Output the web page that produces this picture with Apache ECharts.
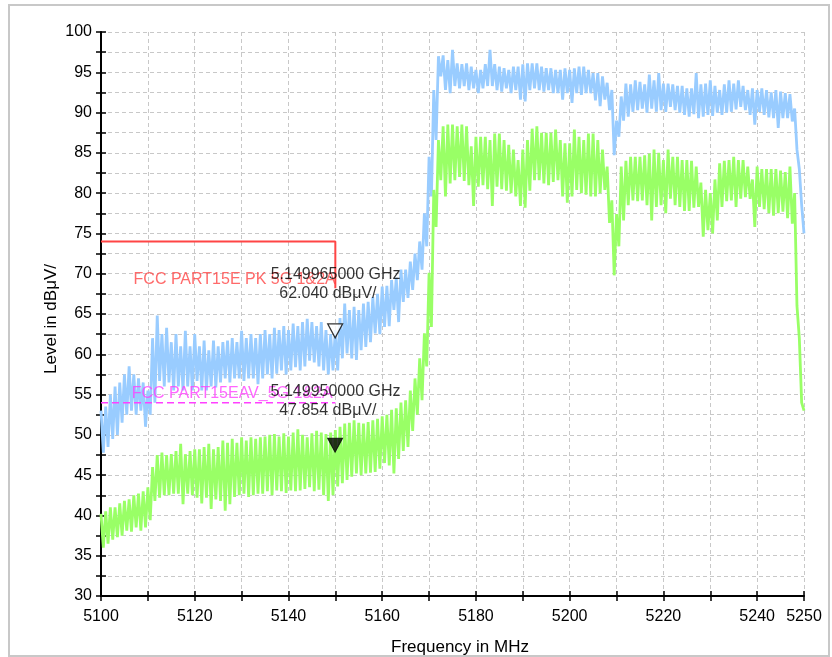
<!DOCTYPE html>
<html><head><meta charset="utf-8">
<script src="https://cdn.jsdelivr.net/npm/echarts@6/dist/echarts.min.js"></script>
<style>html,body{margin:0;padding:0;background:#fff}#c{width:832px;height:657px}</style>
</head><body><div id="c"></div>
<script>
// Frequency axis (MHz): trace maxima read at integer MHz, minima at half-integer MHz
const freqStart = 5100;
const freqStep = 1;
const xTickLabels = [5100, 5120, 5140, 5160, 5180, 5200, 5220, 5240, 5250];

// PK trace (blue) upper envelope, 5100..5250
const pkHi = [
 53,53.5,55,56,56.5,57.5,58.5,57.5,57,56.5,
 55.5,62,64.8,62.5,63.3,61.5,62.5,61,62.9,61,
 62.5,61,61.7,60.5,61.7,61,61.5,61.7,62,61.5,
 62.9,62,62.5,62,62.5,63,62.5,63.3,63,63.5,
 63,63.8,63.5,64,64.4,64,63.5,64,63,62.5,
 63,64.5,66.3,65.5,65.9,65.5,66.3,66.5,67.1,67.5,
 68.4,68.5,69.2,69.5,70.5,70.5,71.5,72.5,74,77.5,
 84.5,92.8,97,97.1,96.5,97.8,96.1,96,96.1,95.7,
 95.3,95.3,96,97.8,96,95.7,95.5,95.3,95.7,95.7,
 96,96.1,96.1,96.1,95.7,95.5,95.5,95.3,95.3,95.5,
 95.3,95.5,95.7,95.7,95.3,94.9,94.9,94.5,93.7,92.8,
 89,92,93.6,93.5,94,93.8,93.5,94.7,94,94.9,
 93.6,93.6,93.5,93.3,93.3,93,93,94.9,93.5,93.6,
 94,93.3,92.8,93.5,94,93.6,94,93.3,92.8,93,
 92.8,93,92.8,92.5,92.8,92.6,92.4,92.3,90.5,83,
 75
];
// PK trace (blue) lower envelope, 5100.5..5249.5
const pkLo = [
 47.8,48.5,49.5,50,51.5,52.5,53,52.5,53,51,
 52.5,54,56.7,56,56.5,55.5,56,55.5,56,55.5,
 56.7,55.5,55.5,56,55.9,56.5,57,56.5,57,57,
 56.7,57,57,56.3,57,57.5,57,57.6,58,57.5,
 58,58.4,58,58.5,59.2,59,58.5,58,57.5,58,
 58,59.5,60.1,59.5,59.3,60.5,60.9,61.5,62.6,62.5,
 63.4,63.5,65.5,64,66.5,67,68,69.2,70.5,73.4,
 79.6,86.6,94.5,92.8,92.4,93.3,93,93.3,92.8,93,
 92.4,93,93.3,93.3,92.8,92.6,93,92.4,92.8,91.6,
 91.4,92.8,93,92.8,92.6,92.8,92.4,92.4,91.6,92.4,
 91.2,92.4,92.2,92.4,92.4,91.5,90.8,91.6,90.3,84.7,
 87,89,89.5,90.1,90.3,90.5,90,90.5,90.1,90.3,
 90.1,90.7,90.3,90,89.7,89.5,89.8,89.3,89.5,89.7,
 89.6,90,89.7,90,90.1,90.4,90.7,90.3,89.7,88.5,
 90.1,89.7,89.4,89.3,88.1,89.3,89.3,88.9,85.4,78.5
];
// AV trace (green) upper envelope, 5100..5250
const avHi = [
 40.2,40.5,41,41,41.5,41.8,42,42.5,42.7,43,
 43.5,46,47.5,47.8,47.5,47.6,48,48.9,47.6,48,
 48.2,48.2,48.5,48.9,48.2,48.5,49.3,49,49.5,49,
 49.7,49.3,49.7,49.5,49.7,49.8,50,50.1,49.8,50.2,
 49.8,50.3,50.7,50,49.7,50.2,50.5,50.3,50.1,50.3,
 50.6,51,51.4,51.5,51.8,51.5,51.4,51.6,51.8,52,
 52.3,52.5,53.1,53.3,54,54.3,55.5,57,59.5,62.6,
 70.1,80.4,86.6,88.3,88.5,88.5,88.3,88.5,88.3,85.8,
 87,87,87,86.6,87.4,87.4,86.6,86,85.4,84.1,
 85.4,86.6,88,88.3,87.5,87.5,87.5,87.9,86.6,86.2,
 86.2,87.9,87,86.6,87.4,87.4,86.6,85.4,83.3,79.1,
 77.4,83.3,84,84.5,84.5,84.5,84.7,84.9,85.4,85,
 84.1,85.4,84.5,84.5,84.1,84.1,84,83.3,81.3,80.4,
 80,81.7,83.7,84,84.1,84.5,84.1,84.1,83.3,81.7,
 83.3,83,83,83,83,82.8,82.6,83.3,80,62,
 53
];
// AV trace (green) lower envelope, 5100.5..5249.5
const avLo = [
 36,36.5,37,37.3,37.5,38.1,38,38.5,38.1,38.5,
 39.4,41.8,42.2,42.5,42.5,42.7,42.7,41.4,42.7,42.5,
 42.2,41.5,42.2,40.8,42,41.8,40.6,41.4,42.3,42.5,
 42.7,42.3,42.5,42.7,42.7,43,42.5,43.1,43,42.8,
 43.1,43,43.1,43.3,43.5,43,43.2,42.5,41.8,42.5,
 43.6,44,44.4,44.8,45.2,45,45.2,45.3,45.4,45.8,
 46.5,46.2,45.2,47,48,48.5,50.5,52.5,54.3,58.5,
 63.4,75.8,81.6,79.6,81.2,81.6,82,81.5,81,78.4,
 80.8,81,80.5,78.4,80.8,80.5,80.3,80,79.6,78.4,
 78.2,80.3,81.6,81.6,81.2,81,81.4,81.6,79.6,78.8,
 79.6,80.4,80,79.8,79.6,79.6,80,80.4,76.3,69.8,
 73.4,76.6,78.5,79.1,79,79.1,78.5,76.6,78.3,78.5,
 77.5,79.3,78.5,78.3,77.8,77.8,78.2,78.3,74.6,75.4,
 75,76.6,78.3,79,79.1,78.3,79.3,79.5,79.3,75.8,
 78.3,78,77.5,77.2,77.5,77.7,76.9,76.2,66,54
];

// Limit lines
const pkLimitName = 'FCC PART15E PK 5G 1&2A';
const pkLimitFreq = [5100, 5150, 5150];
const pkLimitLevel = [74, 74, 68.2];
const avLimitName = 'FCC PART15EAV_5G 1&2A';
const avLimitFreq = [5100, 5150];
const avLimitLevel = [54, 54];

// Markers
const markerFreq = [5149.965, 5149.950];
const markerLevel = [62.040, 47.854];
const markerFreqText = ['5.149965000 GHz', '5.149950000 GHz'];
const markerLevelText = ['62.040 dBμV/', '47.854 dBμV/'];

function zigzag(hi, lo) {
  const out = [];
  for (let i = 0; i < hi.length; i++) {
    out.push([freqStart + i * freqStep, hi[i]]);
    if (i < lo.length) out.push([freqStart + (i + 0.5) * freqStep, lo[i]]);
  }
  return out;
}
const pairs = (xs, ys) => xs.map((x, i) => [x, ys[i]]);

const FONT = 'Liberation Sans, Arial, sans-serif';
const chart = echarts.init(document.getElementById('c'), null, {renderer: 'canvas'});
const tri = 'path://M0 0L14 0L7 13Z';

chart.setOption({
  animation: false,
  backgroundColor: '#fff',
  grid: {left: 101, right: 28, top: 32, bottom: 61, containLabel: false},
  xAxis: [{
    type: 'value', min: 5100, max: 5250, interval: 10,
    axisLine: {show: true, onZero: false, lineStyle: {color: '#000', width: 2}},
    axisTick: {show: true, length: 5, lineStyle: {color: '#000', width: 1.5}},
    axisLabel: {margin: 13, color: '#000', fontSize: 16, fontFamily: FONT,
      formatter: v => xTickLabels.indexOf(v) >= 0 ? String(v) : ''},
    splitLine: {show: true, lineStyle: {color: '#c8c8c8', width: 1, type: [4, 3]}}
  }, {
    type: 'value', min: 5100, max: 5250, interval: 10, position: 'bottom',
    axisLine: {show: false}, axisLabel: {show: false}, splitLine: {show: false},
    axisTick: {show: true, inside: true, length: 5, lineStyle: {color: '#000', width: 1.5}}
  }],
  yAxis: [{
    type: 'value', min: 30, max: 100, interval: 2.5,
    axisLine: {show: true, onZero: false, lineStyle: {color: '#000', width: 2}},
    axisTick: {show: true, length: 5, lineStyle: {color: '#000', width: 1.5}},
    axisLabel: {margin: 9, color: '#000', fontSize: 16, fontFamily: FONT,
      formatter: v => (Math.abs(v % 5) < 1e-6 ? String(v) : '')},
    splitLine: {show: true, lineStyle: {color: '#c8c8c8', width: 1, type: [4, 3]}}
  }, {
    type: 'value', min: 30, max: 100, interval: 2.5, position: 'left',
    axisLine: {show: false}, axisLabel: {show: false}, splitLine: {show: false},
    axisTick: {show: true, inside: true, length: 5, lineStyle: {color: '#000', width: 1.5}}
  }],
  graphic: [
    {type: 'rect', z: -10, silent: true, shape: {x: 9, y: 5, width: 820, height: 651},
     style: {fill: 'none', stroke: '#c8c8c8', lineWidth: 2}},
    {type: 'text', x: 460, y: 647, style: {text: 'Frequency in MHz', fontSize: 17, fontFamily: FONT,
      fill: '#000', align: 'center', verticalAlign: 'middle', textAlign: 'center', textVerticalAlign: 'middle'}},
    {type: 'text', x: 51, y: 319, rotation: Math.PI / 2, style: {text: 'Level in dBμV/', fontSize: 17, fontFamily: FONT,
      fill: '#000', align: 'center', verticalAlign: 'middle', textAlign: 'center', textVerticalAlign: 'middle'}}
  ],
  series: [
    {type: 'line', name: 'PK', data: zigzag(pkHi, pkLo), symbol: 'none', z: 2,
     lineStyle: {color: '#99ccff', width: 2.8, join: 'bevel'}},
    {type: 'line', name: 'AV', data: zigzag(avHi, avLo), symbol: 'none', z: 3,
     lineStyle: {color: '#99ff66', width: 2.8, join: 'bevel'}},
    {type: 'line', name: pkLimitName, data: pairs(pkLimitFreq, pkLimitLevel), symbol: 'none', z: 4,
     lineStyle: {color: '#ff4545', width: 2}},
    {type: 'line', name: avLimitName, data: pairs(avLimitFreq, avLimitLevel), symbol: 'none', z: 4,
     lineStyle: {color: '#ff40ff', width: 1.5, type: [7, 4]}},
    // limit labels
    {type: 'scatter', z: 5, symbol: 'circle', symbolSize: 2, itemStyle: {color: 'rgba(0,0,0,0)'},
     data: [
       {value: [pkLimitFreq[2], pkLimitLevel[2]], label: {show: true, formatter: pkLimitName, position: [-99.7, -7.2],
         align: 'center', verticalAlign: 'middle', color: '#ff4545', fontSize: 16, fontFamily: FONT}},
       {value: [avLimitFreq[1], avLimitLevel[1]], label: {show: true, formatter: avLimitName, position: [-102.2, -7.6],
         align: 'center', verticalAlign: 'middle', color: '#ff40ff', fontSize: 16, fontFamily: FONT}}
     ]},
    // markers
    {type: 'scatter', z: 6, symbol: tri, symbolSize: [15, 14], symbolOffset: [0, -7],
     data: [
       {value: [markerFreq[0], markerLevel[0]], itemStyle: {color: '#fff', borderColor: '#000', borderWidth: 1.2}},
       {value: [markerFreq[1], markerLevel[1]], itemStyle: {color: '#000', borderColor: '#000', borderWidth: 1}}
     ]},
    // marker texts
    {type: 'scatter', z: 7, symbol: 'circle', symbolSize: 2, itemStyle: {color: 'rgba(0,0,0,0)'},
     data: markerFreq.map((f, i) => ({
       value: [f, markerLevel[i]],
       label: {show: true, position: [-63.5, i === 0 ? -72.1 : -69.4], align: 'left', verticalAlign: 'top',
         formatter: '{a|' + markerFreqText[i] + '}\n{b|' + markerLevelText[i] + '}',
         rich: {a: {fontSize: 16, fontFamily: FONT, color: '#000', lineHeight: 19},
                b: {fontSize: 16, fontFamily: FONT, color: '#000', lineHeight: 19, padding: [0, 0, 0, 8.6]}}}
     }))}
  ]
});
</script>
</body></html>
